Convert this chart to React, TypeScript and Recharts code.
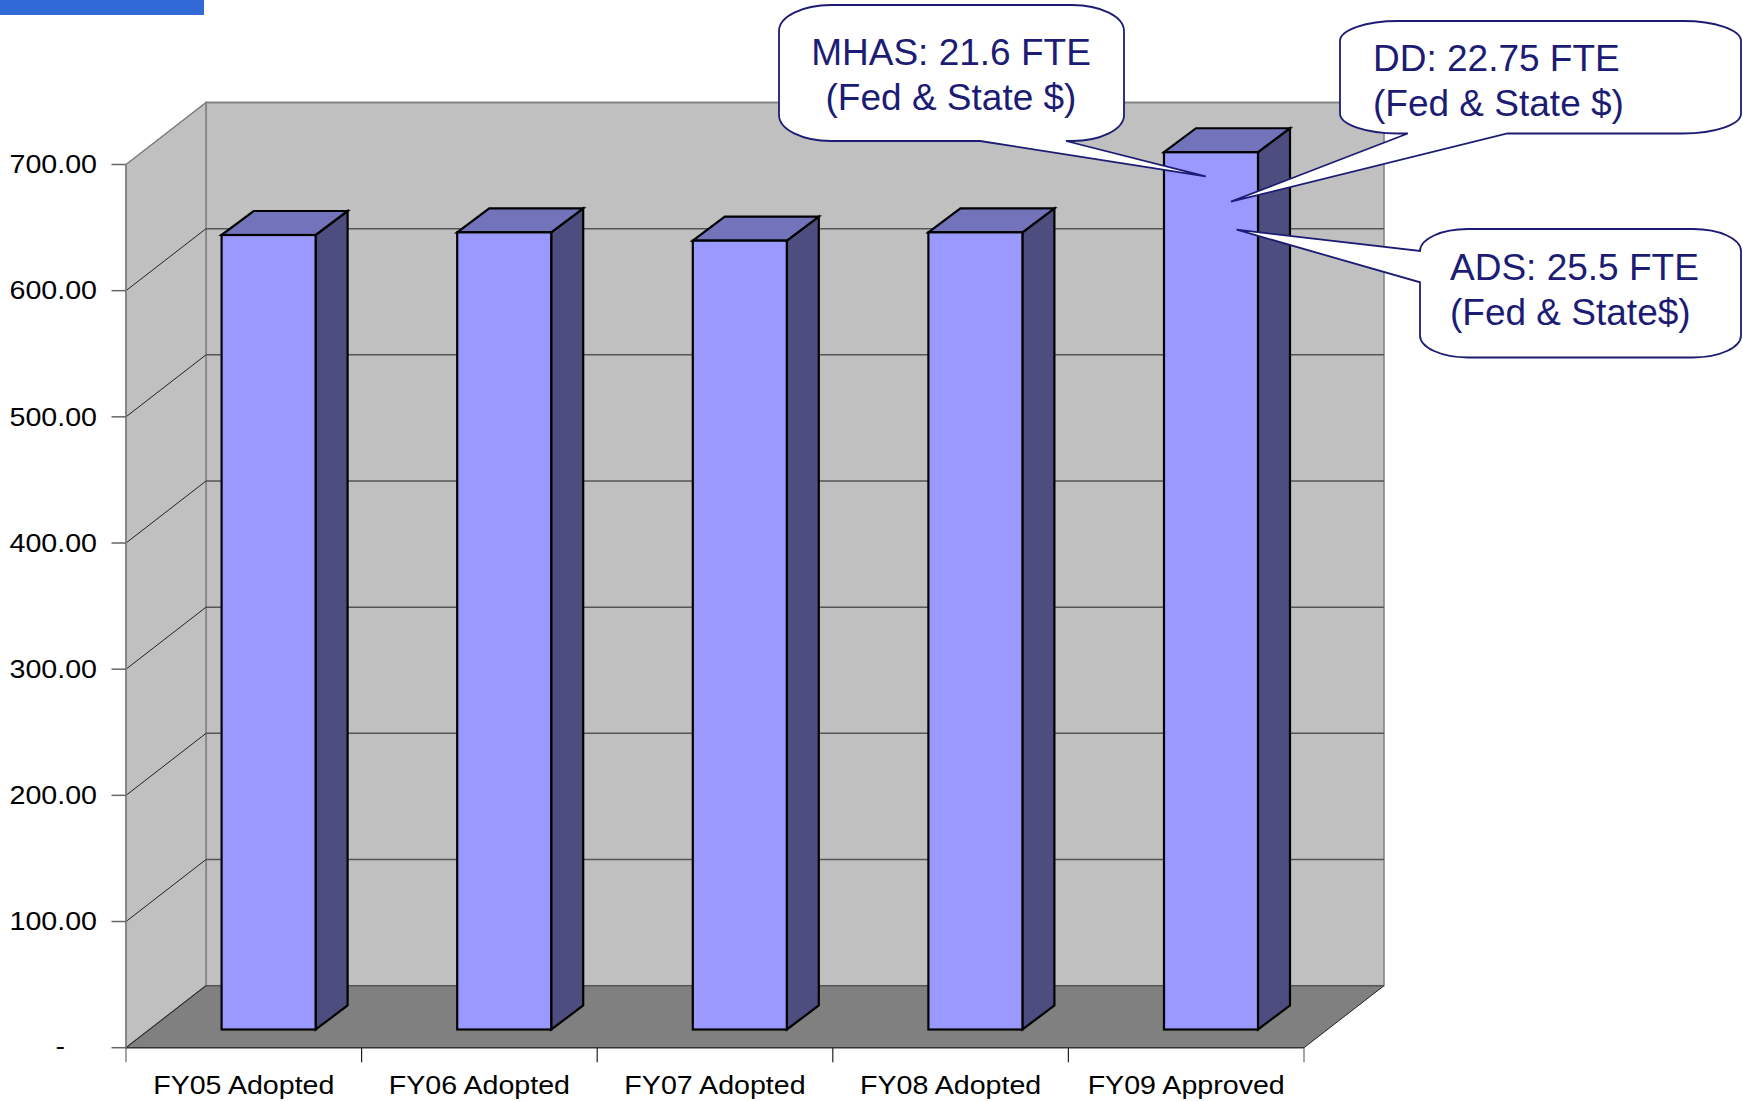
import { Bar, CartesianGrid, ComposedChart, XAxis, YAxis } from 'recharts';

const categories = ['FY05 Adopted', 'FY06 Adopted', 'FY07 Adopted', 'FY08 Adopted', 'FY09 Approved'];
const fteValues = [629.7, 631.8, 625.2, 631.8, 695.3];
const yTicks = [0, 100, 200, 300, 400, 500, 600, 700];

const data = categories.map((name, i) => ({ name, fte: fteValues[i] }));

// plot box of the front plane and the fake 3d depth
const W = 1743;
const H = 1102;
const LEFT = 126;
const RIGHT = 1304;
const TOP = 164.5;
const BOTTOM = 1047.7;
const DX = 80;
const DY = 62;
const TICK = 14.5;
const BAND = (RIGHT - LEFT) / categories.length;

const FONT = '"Liberation Sans", Arial, sans-serif';
const NAVY = '#1c1c74';
const LAYER: React.CSSProperties = { position: 'absolute', left: 0, top: 0 };

// sits under the chart, the chart itself has a transparent background
function Walls() {
  const bx = LEFT + DX;
  const bt = TOP - DY;
  const bb = BOTTOM - DY;
  return (
    <svg width={W} height={H} style={LAYER}>
      <rect x={bx} y={bt} width={RIGHT - LEFT} height={BOTTOM - TOP} fill="#c0c0c0" stroke="#808080" strokeWidth={1.5} />
      <polygon
        points={`${LEFT},${TOP} ${bx},${bt} ${bx},${bb} ${LEFT},${BOTTOM}`}
        fill="#c0c0c0"
        stroke="#808080"
        strokeWidth={1.5}
      />
      <polygon points={`${LEFT},${BOTTOM} ${RIGHT},${BOTTOM} ${RIGHT + DX},${bb} ${bx},${bb}`} fill="#808080" />
      <line x1={RIGHT} y1={BOTTOM} x2={RIGHT + DX} y2={bb} stroke="#222" strokeWidth={1} />
      <line x1={LEFT} y1={BOTTOM} x2={bx} y2={bb} stroke="#666" strokeWidth={1} />
    </svg>
  );
}

function GridLine(props: any) {
  const { x1, x2, y1 } = props;
  const edge = y1 < TOP + 1;
  return (
    <g>
      <line x1={x1} y1={y1} x2={x1 + DX} y2={y1 - DY} stroke={edge ? '#808080' : '#222'} strokeWidth={1} />
      <line x1={x1 + DX} y1={y1 - DY} x2={x2 + DX} y2={y1 - DY} stroke={edge ? '#808080' : '#555'} strokeWidth={1.5} />
    </g>
  );
}

function Box3D(props: any) {
  const { x, y, width, height } = props;
  const d = 32;
  const e = 24;
  const l = x + 24.6;
  const r = l + width;
  const t = y - 18.2;
  const b = t + height;
  return (
    <g stroke="#000" strokeWidth={2.2} strokeLinejoin="miter">
      <polygon points={`${r},${t} ${r + d},${t - e} ${r + d},${b - e} ${r},${b}`} fill="#4d4d7f" />
      <polygon points={`${l},${t} ${l + d},${t - e} ${r + d},${t - e} ${r},${t}`} fill="#7373bb" />
      <rect x={l} y={t} width={width} height={height} fill="#9999ff" />
    </g>
  );
}

function YTick({ y, payload }: any) {
  const zero = payload.value === 0;
  return (
    <g>
      <line x1={LEFT - TICK} y1={y} x2={LEFT} y2={y} stroke="#666" strokeWidth={1.5} />
      <text
        transform={`translate(${zero ? 65 : 97},${y + (zero ? 7.5 : 8.8)}) scale(1.08,1)`}
        textAnchor="end"
        fontFamily={FONT}
        fontSize={26.5}
        fill="#000"
      >
        {zero ? '-' : payload.value.toFixed(2)}
      </text>
    </g>
  );
}

function XTick({ x, payload, index }: any) {
  const last = index === categories.length - 1;
  return (
    <g>
      <line x1={x - BAND / 2} y1={BOTTOM} x2={x - BAND / 2} y2={BOTTOM + TICK} stroke={index === 0 ? '#666' : '#222'} strokeWidth={1.2} />
      {last && <line x1={x + BAND / 2} y1={BOTTOM} x2={x + BAND / 2} y2={BOTTOM + TICK} stroke="#666" strokeWidth={1.2} />}
      <text
        transform={`translate(${x},1094) scale(1.1,1)`}
        textAnchor="middle"
        fontFamily={FONT}
        fontSize={26}
        fill="#000"
      >
        {payload.value}
      </text>
    </g>
  );
}

// rounded box with a pointed tail, elliptical corners like the slide's callout shape
function Callout({ x, y, w, h, rx, ry, tail }: any) {
  const r = x + w;
  const b = y + h;
  const arc = `A${rx},${ry} 0 0 1`;
  const bottom = tail.side === 'bottom' ? `L${tail.a},${b} L${tail.tip[0]},${tail.tip[1]} L${tail.c},${b} ` : '';
  const left = tail.side === 'left' ? `L${x},${tail.a} L${tail.tip[0]},${tail.tip[1]} L${x},${tail.c} ` : '';
  const d =
    `M${x + rx},${y} L${r - rx},${y} ${arc} ${r},${y + ry} L${r},${b - ry} ${arc} ${r - rx},${b} ` +
    bottom +
    `L${x + rx},${b} ${arc} ${x},${b - ry} ` +
    left +
    `L${x},${y + ry} ${arc} ${x + rx},${y} Z`;
  return <path d={d} fill="#fff" stroke={NAVY} strokeWidth={1.8} strokeLinejoin="miter" />;
}

function Note({ x, y, anchor, children }: any) {
  return (
    <text x={x} y={y} textAnchor={anchor} fontFamily={FONT} fontSize={37} fill={NAVY}>
      {children}
    </text>
  );
}

function Callouts() {
  return (
    <svg width={W} height={H} style={LAYER}>
      <Callout x={779} y={5} w={345} h={136} rx={52} ry={26} tail={{ side: 'bottom', a: 1066, tip: [1205.7, 176.3], c: 980 }} />
      <Note x={951} y={65} anchor="middle">MHAS: 21.6 FTE</Note>
      <Note x={951} y={110} anchor="middle">(Fed &amp; State $)</Note>
      <Callout x={1340} y={21} w={401} h={112.5} rx={58} ry={20} tail={{ side: 'bottom', a: 1507.4, tip: [1230.9, 201.7], c: 1407.8 }} />
      <Note x={1373} y={71} anchor="start">DD: 22.75 FTE</Note>
      <Note x={1373} y={116} anchor="start">(Fed &amp; State $)</Note>
      <Callout x={1420} y={229} w={321} h={128.5} rx={48} ry={22} tail={{ side: 'left', a: 282.3, tip: [1236.6, 229.7], c: 251 }} />
      <Note x={1450} y={280} anchor="start">ADS: 25.5 FTE</Note>
      <Note x={1450} y={325} anchor="start">(Fed &amp; State$)</Note>
    </svg>
  );
}

export default function App() {
  return (
    <div style={{ position: 'absolute', left: 0, top: 0, width: W, height: H, background: '#fff' }}>
      <div style={{ position: 'absolute', left: 0, top: 0, width: 204, height: 15, background: '#3169d6' }} />
      <Walls />
      <ComposedChart
        width={W}
        height={H}
        data={data}
        margin={{ top: TOP, right: W - RIGHT, bottom: 0, left: 0 }}
        barCategoryGap={0}
        style={LAYER}
      >
        <CartesianGrid vertical={false} horizontal={GridLine} />
        <XAxis
          dataKey="name"
          height={H - BOTTOM}
          interval={0}
          tickLine={false}
          axisLine={{ stroke: '#333', strokeWidth: 1.5 }}
          tick={XTick}
        />
        <YAxis
          type="number"
          domain={[0, 700]}
          ticks={yTicks}
          width={LEFT}
          tickLine={false}
          axisLine={{ stroke: '#808080', strokeWidth: 1.5 }}
          tick={YTick}
        />
        <Bar dataKey="fte" barSize={94} isAnimationActive={false} shape={Box3D} />
      </ComposedChart>
      <Callouts />
    </div>
  );
}
